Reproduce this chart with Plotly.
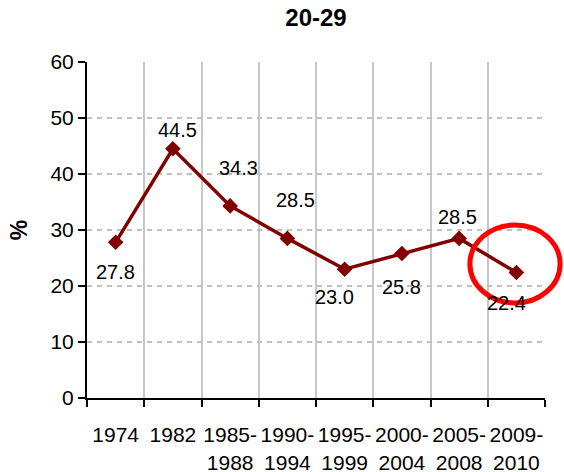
import plotly.graph_objects as go

categories = ["1974", "1982", "1985-<br>1988", "1990-<br>1994", "1995-<br>1999",
              "2000-<br>2004", "2005-<br>2008", "2009-<br>2010"]
values = [27.8, 44.5, 34.3, 28.5, 23.0, 25.8, 28.5, 22.4]
label_text = ["27.8", "44.5", "34.3", "28.5", "23.0", "25.8", "28.5", "22.4"]
y_ticks = [0, 10, 20, 30, 40, 50, 60]

# label offsets (pixels) for data labels
label_dx = [0, 5, 8, 8, -10, 0, -2, -10]
label_dy = [-30, 19, 38, 38, -28, -33, 21, -30]

FONT = "Liberation Sans, Arial, sans-serif"

fig = go.Figure()
fig.add_trace(go.Scatter(
    x=categories, y=values, mode="lines+markers",
    line=dict(color="#800000", width=3.5),
    marker=dict(symbol="diamond", size=12, color="#800000"),
    hoverinfo="skip", showlegend=False,
))

for i, (v, t, dx, dy) in enumerate(zip(values, label_text, label_dx, label_dy)):
    fig.add_annotation(x=i, y=v, xref="x", yref="y", text=t, showarrow=False,
                       xshift=dx, yshift=dy,
                       font=dict(family=FONT, size=20, color="black"))

fig.add_shape(type="circle", xref="paper", yref="paper",
              x0=0.836, x1=1.033, y0=0.283, y1=0.515,
              line=dict(color="#FF0000", width=5))

fig.update_layout(
    width=564, height=472,
    margin=dict(l=87, r=19, t=62, b=74, autoexpand=False),
    paper_bgcolor="white", plot_bgcolor="white",
    title=dict(text="<b>20-29</b>", x=0.5, xanchor="center", xref="paper",
               y=0.962, yanchor="middle",
               font=dict(family=FONT, size=24, color="black")),
    font=dict(family=FONT, size=21, color="black"),
)

fig.update_xaxes(
    type="category", tickson="boundaries",
    showgrid=True, gridcolor="#C8C8C8", gridwidth=2,
    showline=True, linecolor="black", linewidth=2,
    ticks="outside", ticklen=7, tickcolor="black", tickwidth=1.5,
    tickfont=dict(family=FONT, size=21, color="black"),
    tickangle=0, ticklabelstandoff=17,
    range=[-0.5, 7.5], fixedrange=True, zeroline=False, automargin=False,
)
fig.update_yaxes(
    range=[0, 60], tickvals=y_ticks,
    showgrid=True, gridcolor="#C0C0C0", gridwidth=2, griddash="5px,5px",
    showline=True, linecolor="black", linewidth=2,
    ticks="outside", ticklen=7, tickcolor="black", tickwidth=1.5,
    tickfont=dict(family=FONT, size=21, color="black"),
    title=dict(text="<b>%</b>", font=dict(family=FONT, size=23, color="black"), standoff=16),
    zeroline=False, automargin=False,
)

fig.write_html("out.html", config={"displayModeBar": False},
               post_script="document.body.style.margin='0';")
